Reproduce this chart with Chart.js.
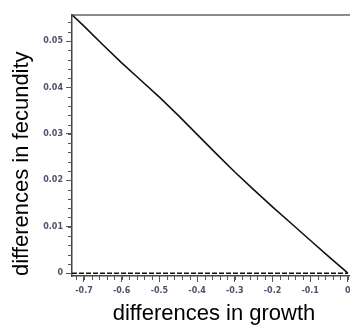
<!DOCTYPE html>
<html>
<head>
<meta charset="utf-8">
<script src="https://cdn.jsdelivr.net/npm/chart.js@4.4.1/dist/chart.umd.min.js"></script>
<style>
  html, body { margin: 0; padding: 0; background: #fff; overflow: hidden; width: 350px; height: 331px; }
  #wrap { position: relative; width: 360px; height: 331px; }
</style>
</head>
<body>
<div id="wrap"><canvas id="c" width="360" height="331"></canvas></div>
<script>
// ---- data ----
const growthDiff = [-0.73, -0.7, -0.65, -0.6, -0.55, -0.5, -0.45, -0.4, -0.35, -0.3, -0.25, -0.2, -0.15, -0.1, -0.05, 0];
const fecundityDiff = [0.0555, 0.0532, 0.0492, 0.0453, 0.0416, 0.0379, 0.0340, 0.0299, 0.0258, 0.0218, 0.0180, 0.0143, 0.0107, 0.0071, 0.0035, 0];
const zeroLineX = [-0.7318, 0];
const zeroLineY = [0, 0];
const xTitle = 'differences in growth';
const yTitle = 'differences in fecundity';
const xRange = [-0.7318, 0.0215];
const yRange = [-0.0006, 0.0556];
const xMajorStep = 0.1, xMinorStep = 0.02;
const yMajorStep = 0.01, yMinorStep = 0.002;

const tickFont = { family: 'DejaVu Sans', size: 8, weight: 'bold' };
const tickColor = '#50506e';
const fmt = v => { const r = Math.round(v * 1000) / 1000; return r === 0 ? '0' : String(r); };

const minorTicks = {
  id: 'minorTicks',
  afterDraw(chart) {
    const ctx = chart.ctx;
    const xs = chart.scales.x, ys = chart.scales.y;
    ctx.save();
    ctx.strokeStyle = '#555';
    ctx.lineWidth = 1;
    ctx.beginPath();
    for (let k = Math.ceil(yRange[0] / yMinorStep); k * yMinorStep <= yRange[1] + 1e-9; k++) {
      const p = Math.round(ys.getPixelForValue(k * yMinorStep)) + 0.5;
      ctx.moveTo(xs.left - 4, p); ctx.lineTo(xs.left, p);
    }
    for (let k = Math.ceil(xRange[0] / xMinorStep); k * xMinorStep <= xRange[1] + 1e-9; k++) {
      const p = Math.round(xs.getPixelForValue(k * xMinorStep)) + 0.5;
      ctx.moveTo(p, ys.bottom); ctx.lineTo(p, ys.bottom + 4);
    }
    ctx.stroke();
    ctx.restore();
  }
};

new Chart(document.getElementById('c'), {
  type: 'scatter',
  data: {
    datasets: [
      {
        data: growthDiff.map((x, i) => ({ x, y: fecundityDiff[i] })),
        showLine: true, borderColor: '#111', borderWidth: 1.6,
        pointRadius: 0, tension: 0
      },
      {
        data: zeroLineX.map((x, i) => ({ x, y: zeroLineY[i] })),
        showLine: true, borderColor: '#111', borderWidth: 1.6,
        borderDash: [5, 2], pointRadius: 0
      }
    ]
  },
  plugins: [minorTicks],
  options: {
    responsive: false,
    animation: false,
    events: [],
    layout: { padding: { top: 15, left: 0, right: 4, bottom: 0 } },
    plugins: { legend: { display: false }, tooltip: { enabled: false } },
    scales: {
      x: {
        type: 'linear', position: 'bottom',
        min: xRange[0], max: xRange[1],
        afterFit: s => { s.height = 55; },
        ticks: { stepSize: xMajorStep, includeBounds: false, font: tickFont, color: tickColor, padding: 4, maxRotation: 0, callback: fmt },
        grid: { drawOnChartArea: false, drawTicks: true, tickLength: 6, tickColor: '#555', tickWidth: 1 },
        border: { display: true, color: '#444', width: 1.5 },
        title: { display: true, text: xTitle, color: '#000', font: { family: 'Liberation Sans', size: 22 }, padding: { top: 0, bottom: 4 } }
      },
      x2: {
        type: 'linear', position: 'top',
        min: xRange[0], max: xRange[1],
        afterFit: s => { s.height = 0; },
        ticks: { display: false },
        grid: { display: true, drawOnChartArea: false, drawTicks: false },
        border: { display: true, color: '#8c8c8c', width: 2 }
      },
      y: {
        type: 'linear', position: 'left',
        min: yRange[0], max: yRange[1],
        afterFit: s => { s.width = 72; },
        ticks: { stepSize: yMajorStep, includeBounds: false, font: tickFont, color: tickColor, padding: 3, callback: fmt },
        grid: { drawOnChartArea: false, drawTicks: true, tickLength: 6, tickColor: '#555', tickWidth: 1 },
        border: { display: true, color: '#444', width: 1.5 },
        title: { display: true, text: yTitle, align: 'start', color: '#000', font: { family: 'Liberation Sans', size: 22 }, padding: { top: 9, bottom: 0 } }
      }
    }
  }
});
</script>
</body>
</html>
